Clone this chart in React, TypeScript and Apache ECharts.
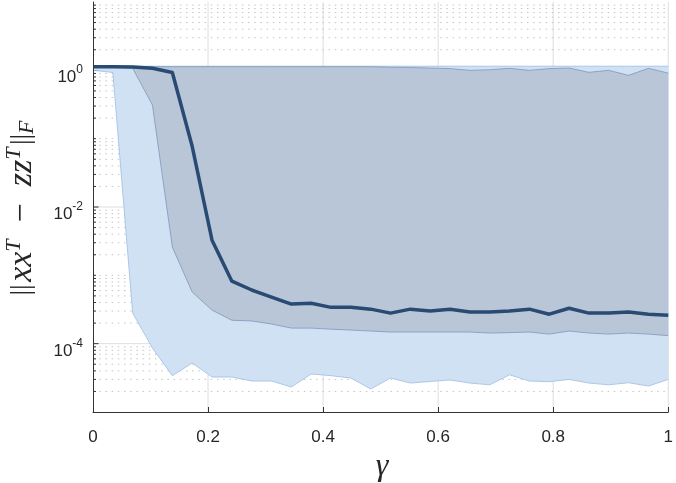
import React, { useEffect, useRef } from 'react';
import * as echarts from 'echarts';

// gamma sample positions (30 points, 0..1)
const gamma = [0, 0.0345, 0.069, 0.1034, 0.1379, 0.1724, 0.2069, 0.2414, 0.2759, 0.3103,
  0.3448, 0.3793, 0.4138, 0.4483, 0.4828, 0.5172, 0.5517, 0.5862, 0.6207, 0.6552,
  0.6897, 0.7241, 0.7586, 0.7931, 0.8276, 0.8621, 0.8966, 0.931, 0.9655, 1];

// median error
const medianErr = [1.13, 1.13, 1.12, 1.07, 0.93, 0.0774, 3.27e-3, 8.2e-4, 6.1e-4, 4.8e-4,
  3.8e-4, 3.9e-4, 3.4e-4, 3.4e-4, 3.2e-4, 2.8e-4, 3.2e-4, 3.0e-4, 3.2e-4, 2.9e-4,
  2.9e-4, 3.0e-4, 3.2e-4, 2.7e-4, 3.3e-4, 2.8e-4, 2.8e-4, 2.9e-4, 2.7e-4, 2.6e-4];

// inner (dark) band
const innerUpper = [1.13, 1.13, 1.13, 1.13, 1.13, 1.13, 1.13, 1.13, 1.13, 1.13,
  1.13, 1.13, 1.13, 1.13, 1.13, 1.11, 1.1, 1.08, 1.06, 1.0,
  1.02, 1.07, 1.0, 1.06, 1.08, 0.935, 1.0, 0.845, 1.07, 0.91];
const innerLower = [1.12, 1.12, 1.07, 0.31, 2.6e-3, 5.7e-4, 3.1e-4, 2.2e-4, 2.15e-4, 1.94e-4,
  1.69e-4, 1.69e-4, 1.63e-4, 1.58e-4, 1.53e-4, 1.48e-4, 1.48e-4, 1.48e-4, 1.48e-4, 1.48e-4,
  1.43e-4, 1.45e-4, 1.48e-4, 1.38e-4, 1.53e-4, 1.43e-4, 1.38e-4, 1.43e-4, 1.38e-4, 1.31e-4];

// outer (light) band
const outerUpper = [1.15, 1.15, 1.15, 1.15, 1.15, 1.15, 1.15, 1.15, 1.15, 1.15,
  1.15, 1.15, 1.15, 1.15, 1.15, 1.15, 1.15, 1.15, 1.15, 1.15,
  1.15, 1.15, 1.15, 1.15, 1.15, 1.15, 1.15, 1.15, 1.15, 1.15];
const outerLower = [1.0, 0.93, 2.8e-4, 8.6e-5, 3.4e-5, 5.2e-5, 3.25e-5, 3.25e-5, 2.84e-5, 2.84e-5,
  2.32e-5, 3.6e-5, 3.4e-5, 3.14e-5, 2.17e-5, 3.14e-5, 2.65e-5, 2.8e-5, 2.94e-5, 2.65e-5,
  2.5e-5, 3.5e-5, 2.84e-5, 2.77e-5, 3.0e-5, 2.65e-5, 2.5e-5, 2.68e-5, 2.4e-5, 3.0e-5];

// axes
const xTicks = [0, 0.2, 0.4, 0.6, 0.8, 1];
const yMajorTicks = [1e-4, 1e-2, 1];
const yLabelExps = [0, -2, -4];
const yDecades = [1e-5, 1e-4, 1e-3, 1e-2, 1e-1, 1];
const minorMult = [2, 3, 4, 5, 6, 7, 8, 9];
const Y_MIN = 1e-5;
const Y_MAX = 10;

const TXT = '#262626';
const AXIS = '#333333';
const SERIF = 'Liberation Serif';

export default function App() {
  const ref = useRef<HTMLDivElement>(null);
  useEffect(() => {
    if (!ref.current) return;
    const chart = echarts.init(ref.current, null, { renderer: 'svg' });

    const minorVals: number[] = [];
    yDecades.forEach((d) => minorMult.forEach((m) => minorVals.push(d * m)));
    [1e-3, 1e-1].forEach((v) => minorVals.push(v));

    const gridSeries = {
      type: 'custom',
      z: 1,
      silent: true,
      data: [[0, 1]],
      renderItem: (_p: any, api: any) => {
        const children: any[] = [];
        xTicks.slice(1).forEach((x) => {
          const a = api.coord([x, Y_MIN]);
          const b = api.coord([x, Y_MAX]);
          children.push({ type: 'line', shape: { x1: a[0], y1: a[1], x2: b[0], y2: b[1] }, style: { stroke: '#dedede', lineWidth: 1 } });
        });
        minorVals.forEach((v) => {
          const a = api.coord([0, v]);
          const b = api.coord([1, v]);
          children.push({ type: 'line', shape: { x1: a[0], y1: a[1], x2: b[0], y2: b[1] }, style: { stroke: '#c4c4c4', lineWidth: 1, lineDash: [1.5, 4.7] } });
          children.push({ type: 'line', shape: { x1: a[0], y1: a[1], x2: a[0] + 3, y2: a[1] }, style: { stroke: AXIS, lineWidth: 1 } });
        });
        yMajorTicks.forEach((v) => {
          const a = api.coord([0, v]);
          const b = api.coord([1, v]);
          children.push({ type: 'line', shape: { x1: a[0], y1: a[1], x2: b[0], y2: b[1] }, style: { stroke: '#dedede', lineWidth: 1 } });
          children.push({ type: 'line', shape: { x1: a[0], y1: a[1], x2: a[0] + 5.5, y2: a[1] }, style: { stroke: AXIS, lineWidth: 1 } });
        });
        return { type: 'group', children };
      },
    };

    const band = (upper: number[], lower: number[], fill: string, edge: string, z: number) => ({
      type: 'custom',
      z,
      silent: true,
      data: [[0, 1]],
      renderItem: (_p: any, api: any) => {
        const up = gamma.map((g, i) => api.coord([g, upper[i]]));
        const lo = gamma.map((g, i) => api.coord([g, lower[i]]));
        return {
          type: 'group',
          children: [
            { type: 'polygon', shape: { points: up.concat(lo.slice().reverse()) }, style: { fill } },
            { type: 'polyline', shape: { points: up }, style: { stroke: edge, lineWidth: 0.8, fill: null } },
            { type: 'polyline', shape: { points: lo }, style: { stroke: edge, lineWidth: 0.8, fill: null } },
          ],
        };
      },
    });

    chart.setOption({
      animation: false,
      grid: { left: 93, right: 3, top: 2, bottom: 71 },
      xAxis: {
        type: 'value', min: 0, max: 1, interval: 0.2, z: 10,
        axisLine: { show: true, lineStyle: { color: AXIS, width: 1 } },
        axisTick: { show: true, inside: true, length: 5, lineStyle: { color: AXIS } },
        splitLine: { show: false },
        axisLabel: { color: TXT, fontSize: 17, fontFamily: 'Liberation Sans', margin: 16 },
      },
      yAxis: {
        type: 'log', logBase: 10, min: Y_MIN, max: Y_MAX, splitNumber: 6, z: 10,
        axisLine: { show: true, lineStyle: { color: AXIS, width: 1 } },
        axisTick: { show: false },
        splitLine: { show: false },
        axisLabel: {
          margin: 10,
          padding: [8, 0, 0, 0],
          formatter: (v: number) => {
            const e = Math.round(Math.log10(v));
            return yLabelExps.includes(e) ? `{b|10}{s|${e}}` : '';
          },
          rich: {
            b: { fontSize: 17, lineHeight: 22, verticalAlign: 'bottom', color: TXT, fontFamily: 'Liberation Sans' },
            s: { fontSize: 12, lineHeight: 12, verticalAlign: 'top', color: TXT, fontFamily: 'Liberation Sans' },
          },
        },
      },
      graphic: [
        {
          type: 'text', x: 19, y: 208, rotation: Math.PI / 2, z: 100,
          style: {
            text: '{n|||}{g| }{v|xx}{s|T}{m|  −  }{v|zz}{s|T}{g| }{n|||}{f|F}',
            align: 'center', verticalAlign: 'middle',
            rich: {
              n: { fontFamily: SERIF, fontSize: 28, lineHeight: 35, fill: TXT },
              g: { fontFamily: SERIF, fontSize: 10, lineHeight: 35, fill: TXT },
              v: { fontFamily: SERIF, fontStyle: 'italic', fontSize: 34, lineHeight: 35, fill: TXT },
              s: { fontFamily: SERIF, fontStyle: 'italic', fontSize: 22, verticalAlign: 'top', fill: TXT },
              m: { fontFamily: SERIF, fontSize: 34, lineHeight: 35, fill: TXT },
              f: { fontFamily: SERIF, fontStyle: 'italic', fontSize: 22, verticalAlign: 'bottom', fill: TXT },
            },
          },
        },
        {
          type: 'text', x: 382, y: 464, z: 100,
          style: { text: 'γ', fontFamily: SERIF, fontStyle: 'italic', fontSize: 32, fill: TXT, align: 'center', verticalAlign: 'middle' },
        },
      ],
      series: [
        gridSeries,
        band(outerUpper, outerLower, '#d0e1f4', '#9dbde6', 2),
        band(innerUpper, innerLower, '#b9c6d8', '#7f97ba', 3),
        {
          type: 'line', z: 5, silent: true, symbol: 'none',
          data: gamma.map((g, i) => [g, medianErr[i]]),
          lineStyle: { color: '#284a73', width: 3.5, join: 'round' },
        },
      ],
    });
    return () => chart.dispose();
  }, []);
  return <div ref={ref} style={{ position: 'fixed', left: 0, top: 0, width: 676, height: 483 }} />;
}
